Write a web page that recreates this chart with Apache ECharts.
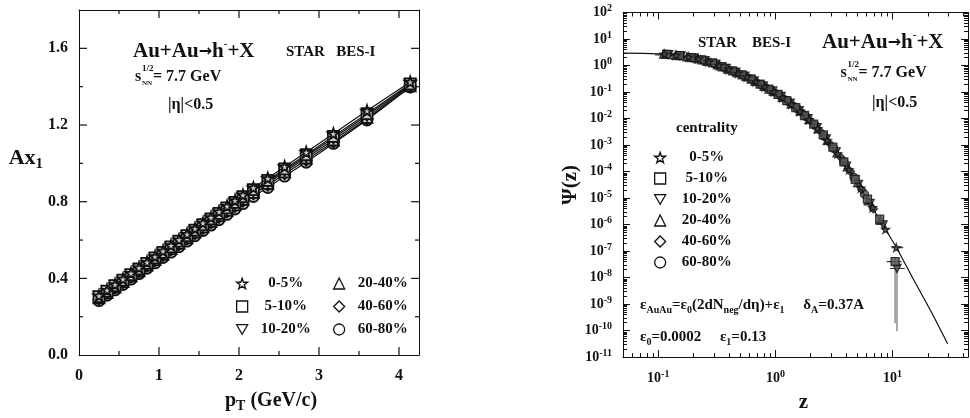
<!DOCTYPE html>
<html>
<head>
<meta charset="utf-8">
<script src="https://cdn.jsdelivr.net/npm/echarts@6/dist/echarts.min.js"></script>
<style>
html, body { margin: 0; background: #fff; }
#chart { width: 970px; height: 418px; }
</style>
</head>
<body>
<div id="chart"></div>
<script>
var FONT = 'Liberation Serif';
var INK = '#111';

// ---- data: left panel, Ax1 vs pT ----
var centralities = ['0-5%', '5-10%', '10-20%', '20-40%', '40-60%', '60-80%'];
var pT = [0.25, 0.35, 0.45, 0.55, 0.65, 0.75, 0.85, 0.95, 1.05, 1.15, 1.25, 1.35, 1.45,
          1.55, 1.65, 1.75, 1.85, 1.95, 2.05, 2.18, 2.36, 2.57, 2.84, 3.18, 3.60, 4.14];
var ax0005 = [0.310, 0.339, 0.368, 0.397, 0.427, 0.456, 0.485, 0.514, 0.543, 0.572, 0.602, 0.631, 0.660,
              0.689, 0.718, 0.748, 0.777, 0.806, 0.835, 0.873, 0.922, 0.983, 1.058, 1.155, 1.274, 1.425];
var ax0510 = [0.305, 0.334, 0.362, 0.391, 0.420, 0.449, 0.478, 0.507, 0.536, 0.565, 0.594, 0.623, 0.652,
              0.681, 0.710, 0.739, 0.768, 0.797, 0.826, 0.863, 0.911, 0.971, 1.045, 1.141, 1.259, 1.415];
var ax1020 = [0.302, 0.330, 0.359, 0.387, 0.416, 0.445, 0.474, 0.503, 0.531, 0.560, 0.589, 0.618, 0.647,
              0.676, 0.704, 0.733, 0.762, 0.791, 0.820, 0.857, 0.904, 0.964, 1.037, 1.132, 1.250, 1.410];
var ax2040 = [0.298, 0.326, 0.355, 0.383, 0.412, 0.440, 0.469, 0.498, 0.526, 0.555, 0.583, 0.612, 0.641,
              0.669, 0.698, 0.727, 0.755, 0.784, 0.812, 0.849, 0.896, 0.956, 1.028, 1.122, 1.240, 1.405];
var ax4060 = [0.293, 0.321, 0.350, 0.378, 0.406, 0.435, 0.463, 0.491, 0.520, 0.548, 0.576, 0.605, 0.633,
              0.661, 0.690, 0.718, 0.746, 0.775, 0.803, 0.840, 0.886, 0.946, 1.017, 1.112, 1.232, 1.400];
var ax6080 = [0.284, 0.312, 0.340, 0.368, 0.396, 0.425, 0.453, 0.481, 0.509, 0.537, 0.565, 0.594, 0.622,
              0.650, 0.678, 0.706, 0.734, 0.762, 0.790, 0.827, 0.874, 0.933, 1.006, 1.104, 1.226, 1.398];

// ---- data: right panel, psi(z) ----
var z0005 = [0.113, 0.142, 0.181, 0.22, 0.27, 0.33, 0.40, 0.48, 0.57, 0.68, 0.81, 0.97, 1.15, 1.37,
             1.62, 1.93, 2.29, 2.76, 3.39, 4.25, 5.35, 6.75, 8.7, 10.75];
var psi0005 = [2.70, 2.43, 2.09, 1.78, 1.38, 1.00, 0.71, 0.51, 0.37, 0.245, 0.158, 0.102, 0.062, 0.035,
               0.019, 0.0091, 0.0042, 0.0015, 4.7e-4, 1.17e-4, 2.4e-5, 4.4e-6, 6.6e-7, 1.35e-7];
var z0510 = [0.118, 0.152, 0.191, 0.235, 0.29, 0.35, 0.43, 0.52, 0.62, 0.74, 0.88, 1.05, 1.25, 1.49,
             1.77, 2.12, 2.56, 3.09, 3.84, 4.8, 6.1, 7.75, 10.5];
var psi0510 = [2.63, 2.36, 2.0, 1.64, 1.26, 0.90, 0.63, 0.44, 0.31, 0.20, 0.129, 0.081, 0.047, 0.026,
               0.013, 0.0062, 0.0024, 8.3e-4, 2.3e-4, 5.1e-5, 9.1e-6, 1.6e-6, 4e-8];
var z1020 = [0.123, 0.157, 0.201, 0.25, 0.31, 0.38, 0.46, 0.55, 0.66, 0.79, 0.95, 1.12, 1.34, 1.6,
             1.9, 2.27, 2.72, 3.3, 4.05, 5.12, 6.43, 8.3, 10.9];
var psi1020 = [2.59, 2.32, 1.92, 1.51, 1.12, 0.78, 0.56, 0.40, 0.263, 0.17, 0.11, 0.068, 0.038, 0.020,
               0.0098, 0.0045, 0.0017, 5.6e-4, 1.6e-4, 3.3e-5, 6.3e-6, 9.8e-7, 2.2e-8];
var z2040 = [0.111, 0.14, 0.176, 0.215, 0.26, 0.32, 0.39, 0.47, 0.56, 0.67, 0.80, 0.96, 1.14, 1.36,
             1.62, 1.93, 2.31, 2.77, 3.35, 4.1, 5.02, 6.2, 7.85];
var psi2040 = [2.69, 2.44, 2.14, 1.82, 1.45, 1.05, 0.74, 0.54, 0.38, 0.25, 0.164, 0.107, 0.063, 0.036,
               0.019, 0.0091, 0.0041, 0.0015, 5.1e-4, 1.5e-4, 3.8e-5, 7.9e-6, 1.45e-6];
var z4060 = [0.115, 0.147, 0.186, 0.23, 0.28, 0.34, 0.42, 0.50, 0.60, 0.71, 0.85, 1.02, 1.21, 1.44,
             1.71, 2.04, 2.44, 2.93, 3.57, 4.37, 5.44, 6.85];
var psi4060 = [2.67, 2.39, 2.04, 1.69, 1.32, 0.95, 0.65, 0.475, 0.333, 0.221, 0.141, 0.089, 0.054, 0.030,
               0.0158, 0.0074, 0.0032, 0.0011, 3.6e-4, 1.0e-4, 2.1e-5, 3.9e-6];
var z6080 = [0.12, 0.152, 0.191, 0.24, 0.30, 0.36, 0.44, 0.53, 0.64, 0.76, 0.91, 1.08, 1.29, 1.54,
             1.83, 2.19, 2.62, 3.14, 3.83, 4.68, 5.75];
var psi6080 = [2.62, 2.36, 2.0, 1.60, 1.19, 0.86, 0.60, 0.43, 0.284, 0.186, 0.117, 0.076, 0.044, 0.023,
               0.0117, 0.0054, 0.0021, 7.5e-4, 2.3e-4, 6.0e-5, 1.4e-5];

// fitted curve
var curveZ = [0.05, 0.075, 0.113, 0.162, 0.22, 0.3, 0.38, 0.48, 0.6, 0.75, 1.0, 1.3, 1.65, 2.0, 2.4,
              3.0, 3.6, 4.25, 5.2, 6.3, 7.9, 10.7, 15.0, 21.7, 29.5];
var curvePsi = [2.95, 2.88, 2.69, 2.29, 1.78, 1.26, 0.81, 0.54, 0.35, 0.20, 0.095, 0.042, 0.017, 0.0074, 0.0030,
                8.3e-4, 2.8e-4, 1.0e-4, 2.8e-5, 7.1e-6, 1.3e-6, 1.45e-7, 8.9e-9, 4.5e-10, 3.2e-11];

// error bars: horizontal [zLow, zHigh, psi], vertical [z, psiLow, psiHigh]
var errZ = [[0.094, 0.16, 2.5], [0.10, 0.14, 2.75], [5.05, 5.7, 2.4e-5], [5.9, 6.8, 6.3e-6],
            [6.3, 7.2, 4.4e-6], [8.1, 9.3, 6.6e-7], [9.8, 12.3, 1.35e-7], [8.9, 11.9, 4e-8], [9.5, 12.7, 2.2e-8]];
var errPsi = [[10.5, 1.9e-10, 6e-8], [10.9, 9.5e-11, 3.3e-8]];

// ticks and labels
var ptLabels = [0, 1, 2, 3, 4];
var axLabels = [0, 0.4, 0.8, 1.2, 1.6];
var ptTicks = [[1, 8], [2, 8], [3, 8], [4, 8], [0.5, 4], [1.5, 4], [2.5, 4], [3.5, 4]];
var axTicks = [[0.4, 8], [0.8, 8], [1.2, 8], [1.6, 8], [0.2, 4], [0.6, 4], [1.0, 4], [1.4, 4]];
var zMajor = [0.1, 1, 10];
var zMinor = [];
for (var d = -2; d <= 1; d++) {
    for (var k = 2; k <= 9; k++) {
        var v = Number((k * Math.pow(10, d)).toPrecision(3));
        if (v >= 0.05 && v <= 44) zMinor.push(v);
    }
}
var psiMajor = [];
var psiMinor = [];
for (var e = -11; e <= 2; e++) {
    psiMajor.push(Number(Math.pow(10, e).toPrecision(3)));
    if (e < 2) {
        for (var k2 = 2; k2 <= 9; k2++) psiMinor.push(Number((k2 * Math.pow(10, e)).toPrecision(3)));
    }
}

var axSeries = [ax0005, ax0510, ax1020, ax2040, ax4060, ax6080];
var zSeries = [z0005, z0510, z1020, z2040, z4060, z6080];
var psiSeries = [psi0005, psi0510, psi1020, psi2040, psi4060, psi6080];

var starPath = 'path://M50,0 L61.8,35.4 99,35.4 69,57.3 80.3,92.7 50,70.8 19.7,92.7 31,57.3 1,35.4 38.2,35.4Z';
var downTri = 'path://M0,0 L100,0 50,87Z';
var symbols = [starPath, 'rect', downTri, 'triangle', 'diamond', 'circle'];

var supStyle = { fontFamily: FONT, fontWeight: 'bold', fontSize: 10, lineHeight: 10, verticalAlign: 'top', color: INK };

function axis(grid, pos, type, min, max, ticks, tickLen, extra) {
    var a = {
        gridIndex: grid, type: type, position: pos, min: min, max: max,
        axisLine: { show: false, onZero: false, lineStyle: { color: INK, width: 1 } },
        axisTick: { show: !!ticks, inside: true, length: tickLen, lineStyle: { color: INK, width: 1 } },
        axisLabel: { show: false },
        splitLine: { show: false }
    };
    if (ticks) a.axisTick.customValues = ticks;
    if (type === 'log') a.logBase = 10;
    return Object.assign(a, extra || {});
}
var boxLine = { show: true, onZero: false, lineStyle: { color: INK, width: 1 } };

function logLabel(v) {
    return '10{sup|' + Math.round(Math.log10(v)) + '}';
}

var xAxes = [
    axis(0, 'bottom', 'value', 0, 4.25, null, 8, {
        axisLine: boxLine,
        axisLabel: { customValues: ptLabels, margin: 13, fontFamily: FONT, fontWeight: 'bold', fontSize: 16, color: INK },
        name: 'p{sub|T} (GeV/c)', nameLocation: 'middle', nameGap: 30,
        nameTextStyle: { fontFamily: FONT, fontWeight: 'bold', fontSize: 20, color: INK, lineHeight: 24, padding: [0, 0, 0, 44],
                         rich: { sub: { fontFamily: FONT, fontWeight: 'bold', fontSize: 14, lineHeight: 14, verticalAlign: 'bottom', color: INK } } }
    }),
    axis(0, 'top', 'value', 0, 4.25, null, 8, { axisLine: boxLine }),
    axis(1, 'bottom', 'log', 0.05, 44, zMajor, 7, {
        axisLine: boxLine,
        axisLabel: { customValues: zMajor, margin: 12, fontFamily: FONT, fontWeight: 'bold', fontSize: 14, color: INK, lineHeight: 18,
                     formatter: logLabel, rich: { sup: supStyle } },
        name: 'z', nameLocation: 'middle', nameGap: 25,
        nameTextStyle: { fontFamily: FONT, fontSize: 21, fontWeight: 'bold', color: INK, padding: [0, 0, 0, 16] }
    }),
    axis(1, 'bottom', 'log', 0.05, 44, zMinor, 4),
    axis(1, 'top', 'log', 0.05, 44, zMajor, 7, { axisLine: boxLine }),
    axis(1, 'top', 'log', 0.05, 44, zMinor, 4)
];

var yAxes = [
    axis(0, 'left', 'value', 0, 1.8, null, 8, {
        axisLine: boxLine,
        axisLabel: { customValues: axLabels, margin: 11, fontFamily: FONT, fontWeight: 'bold', fontSize: 16, color: INK,
                     formatter: function (v) { return v.toFixed(1); } },
        name: 'Ax{sub|1}', nameLocation: 'middle', nameRotate: 0, nameGap: 30,
        nameTextStyle: { fontFamily: FONT, fontWeight: 'bold', fontSize: 22, color: INK, lineHeight: 26, padding: [0, 0, 48, 0],
                         rich: { sub: { fontFamily: FONT, fontWeight: 'bold', fontSize: 15, lineHeight: 15, verticalAlign: 'bottom', color: INK } } }
    }),
    axis(0, 'right', 'value', 0, 1.8, null, 8, { axisLine: boxLine }),
    axis(1, 'left', 'log', 1e-11, 100, psiMajor, 7, {
        axisLine: boxLine,
        axisLabel: { customValues: psiMajor, margin: 11, fontFamily: FONT, fontWeight: 'bold', fontSize: 14, color: INK, lineHeight: 18,
                     formatter: logLabel, rich: { sup: supStyle } },
        name: 'Ψ(z)', nameLocation: 'middle', nameRotate: 90, nameGap: 42,
        nameTextStyle: { fontFamily: FONT, fontWeight: 'bold', fontSize: 21, color: INK }
    }),
    axis(1, 'left', 'log', 1e-11, 100, psiMinor, 4),
    axis(1, 'right', 'log', 1e-11, 100, psiMajor, 7, { axisLine: boxLine }),
    axis(1, 'right', 'log', 1e-11, 100, psiMinor, 4)
];
// axis indices of the right panel
var RX = 2, RY = 2;

var series = [];
// inward tick marks of the left frame, placed through the panel's own scales
series.push({
    type: 'custom', xAxisIndex: 0, yAxisIndex: 0, z: 1, clip: false, silent: true,
    data: ptTicks,
    renderItem: function (params, api) {
        var b = api.coord([api.value(0), 0]);
        var t = api.coord([api.value(0), 1.8]);
        var len = api.value(1);
        var st = { stroke: INK, lineWidth: 1.2 };
        return { type: 'group', children: [
            { type: 'line', shape: { x1: b[0], y1: b[1], x2: b[0], y2: b[1] - len }, style: st },
            { type: 'line', shape: { x1: t[0], y1: t[1], x2: t[0], y2: t[1] + len }, style: st }
        ] };
    }
});
series.push({
    type: 'custom', xAxisIndex: 0, yAxisIndex: 0, z: 1, clip: false, silent: true,
    data: axTicks,
    renderItem: function (params, api) {
        var l = api.coord([0, api.value(0)]);
        var r = api.coord([4.25, api.value(0)]);
        var len = api.value(1);
        var st = { stroke: INK, lineWidth: 1.2 };
        return { type: 'group', children: [
            { type: 'line', shape: { x1: l[0], y1: l[1], x2: l[0] + len, y2: l[1] }, style: st },
            { type: 'line', shape: { x1: r[0], y1: r[1], x2: r[0] - len, y2: r[1] }, style: st }
        ] };
    }
});
centralities.forEach(function (name, i) {
    series.push({
        name: name, type: 'line', xAxisIndex: 0, yAxisIndex: 0, z: 8 - i,
        data: pT.map(function (p, j) { return [p, axSeries[i][j]]; }),
        symbol: symbols[i], symbolSize: 11, showAllSymbol: true,
        lineStyle: { color: '#111', width: 1.2 },
        itemStyle: { color: '#ccc', borderColor: '#111', borderWidth: 1.8 }
    });
});
series.push({
    type: 'line', xAxisIndex: RX, yAxisIndex: RY, showSymbol: false, z: 3,
    data: curveZ.map(function (zz, j) { return [zz, curvePsi[j]]; }),
    lineStyle: { color: '#111', width: 1.2 }
});
series.push({
    type: 'custom', xAxisIndex: RX, yAxisIndex: RY, z: 4, clip: true,
    data: errZ,
    renderItem: function (params, api) {
        var a = api.coord([api.value(0), api.value(2)]);
        var b = api.coord([api.value(1), api.value(2)]);
        return { type: 'line', shape: { x1: a[0], y1: a[1], x2: b[0], y2: b[1] },
                 style: { stroke: '#333', lineWidth: 1.2 } };
    }
});
series.push({
    type: 'custom', xAxisIndex: RX, yAxisIndex: RY, z: 4, clip: true,
    data: errPsi,
    renderItem: function (params, api) {
        var a = api.coord([api.value(0), api.value(1)]);
        var b = api.coord([api.value(0), api.value(2)]);
        return { type: 'line', shape: { x1: a[0], y1: a[1], x2: b[0], y2: b[1] },
                 style: { stroke: '#555', lineWidth: 1 } };
    }
});
centralities.forEach(function (name, i) {
    series.push({
        name: name, type: 'scatter', xAxisIndex: RX, yAxisIndex: RY, z: 10 - i,
        data: zSeries[i].map(function (zz, j) { return [zz, psiSeries[i][j]]; }),
        symbol: symbols[i], symbolSize: 8,
        itemStyle: { color: '#555', borderColor: '#111', borderWidth: 1.3 }
    });
});

function legendBlock(names, left, top, textW, gap) {
    return {
        data: names.map(function (n) { return { name: n, icon: symbols[centralities.indexOf(n)] }; }),
        orient: 'vertical', left: left, top: top, padding: 0, itemGap: gap,
        itemWidth: 11, itemHeight: 11, selectedMode: false,
        itemStyle: { color: '#fff', borderColor: '#111', borderWidth: 1.3 },
        formatter: function (n) { return '{c|' + n + '}'; },
        textStyle: { rich: { c: { width: textW, align: 'center', fontFamily: FONT, fontWeight: 'bold',
                                  fontSize: 15, color: INK, lineHeight: 18 } } }
    };
}

var rich = {
    sup: { fontFamily: FONT, fontWeight: 'bold', fontSize: 11, lineHeight: 11, verticalAlign: 'top', fill: INK },
    sub: { fontFamily: FONT, fontWeight: 'bold', fontSize: 10, lineHeight: 10, verticalAlign: 'bottom', fill: INK },
    arr: { fontFamily: 'DejaVu Sans', fontWeight: 'bold', fontSize: 16, fill: INK }
};
function txt(x, y, text, size) {
    return {
        type: 'text', x: x, y: y, silent: true,
        style: { text: text, fontFamily: FONT, fontWeight: 'bold', fontSize: size, lineHeight: size + 5, fill: INK,
                 align: 'left', verticalAlign: 'middle', rich: rich }
    };
}
function sqrtS(x, y) {
    return [
        txt(x, y, 's', 16),
        txt(x + 7, y - 8, '1/2', 9),
        txt(x + 7, y + 6, 'NN', 7),
        txt(x + 18, y, '= 7.7 GeV', 16)
    ];
}

var graphics = [
    txt(133, 52, 'Au+Au{arr|→}h{sup|-}+X', 21),
    txt(286, 52, 'STAR   BES-I', 15),
    txt(168, 105, '|η|<0.5', 16),
    txt(698, 43, 'STAR    BES-I', 15),
    txt(822, 43, 'Au+Au{arr|→}h{sup|-}+X', 21),
    txt(872, 103, '|η|<0.5', 16),
    txt(676, 128, 'centrality', 15),
    txt(640, 305, 'ε{sub|AuAu}=ε{sub|0}(2dN{sub|neg}/dη)+ε{sub|1}     δ{sub|A}=0.37A', 15),
    txt(640, 337, 'ε{sub|0}=0.0002     ε{sub|1}=0.13', 15)
].concat(sqrtS(135, 77), sqrtS(840.5, 73));

var chart = echarts.init(document.getElementById('chart'), null, { renderer: 'canvas' });
chart.setOption({
    animation: false,
    backgroundColor: '#fff',
    grid: [
        { left: 79, top: 10, width: 340, height: 351 },
        { left: 623, top: 12.5, width: 345, height: 347 }
    ],
    xAxis: xAxes,
    yAxis: yAxes,
    legend: [
        legendBlock(['0-5%', '5-10%', '10-20%'], 236, 276, 66, 8),
        legendBlock(['20-40%', '40-60%', '60-80%'], 333, 276, 66, 8),
        legendBlock(centralities, 654, 150, 72, 6)
    ],
    graphic: graphics,
    series: series
});
</script>
</body>
</html>
